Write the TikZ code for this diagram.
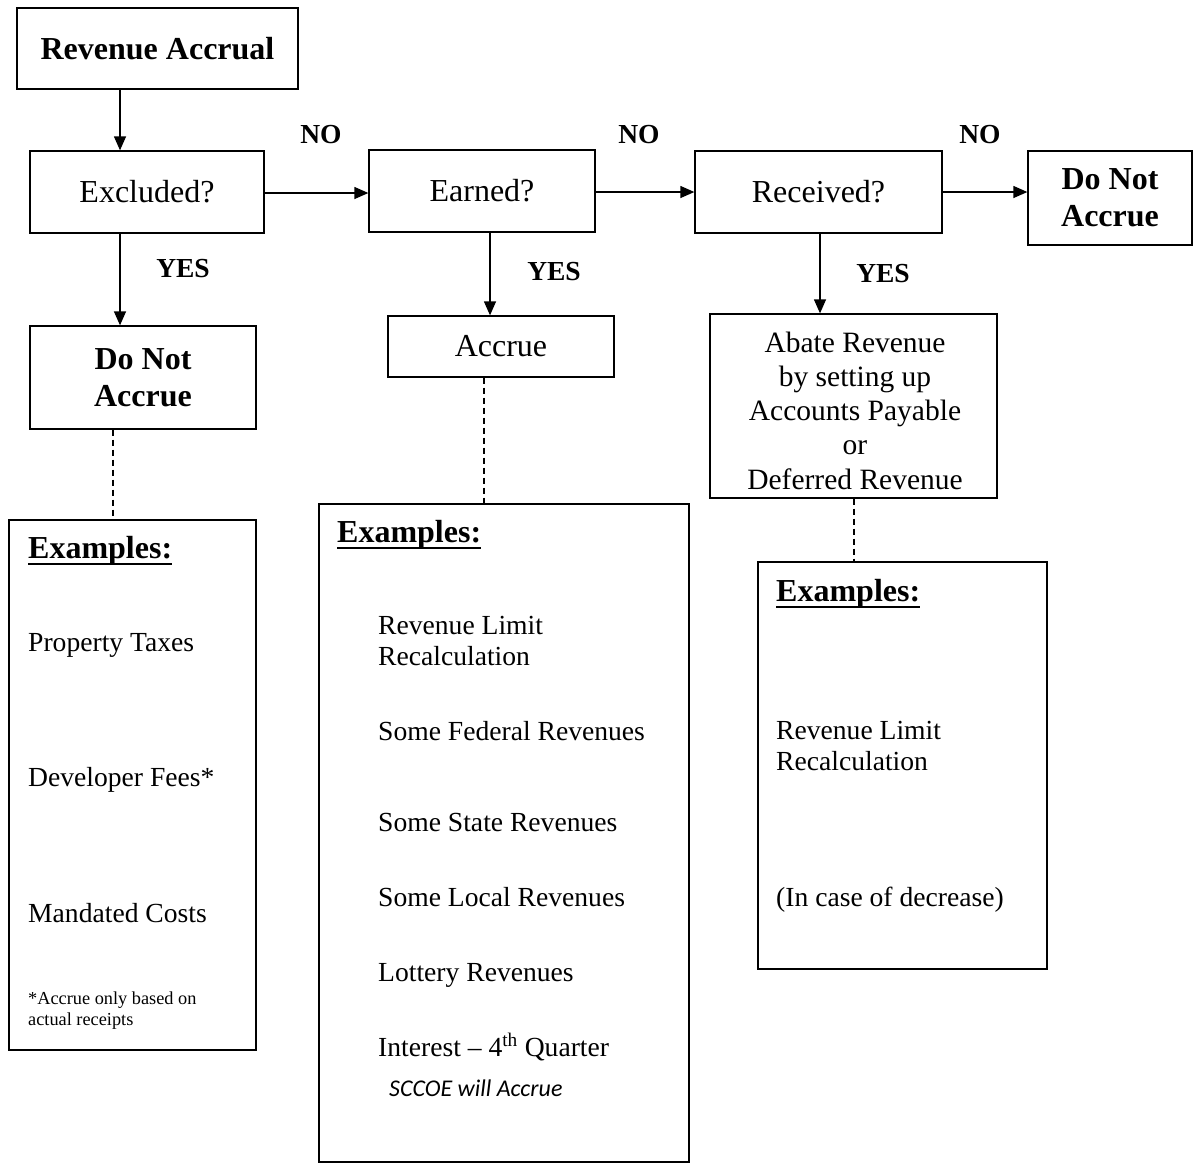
\documentclass[tikz,border=0pt]{standalone}
\usepackage{fontspec}
\setmainfont{Liberation Serif}
\newfontfamily\carlito{Carlito}
\usetikzlibrary{arrows.meta}
\begin{document}
\begin{tikzpicture}[x=1pt,y=-1pt,
  box/.style={draw, line width=1.3pt, inner sep=0pt, align=center},
  boxfont/.style={font=\fontsize{32}{36}\selectfont},
  boldfont/.style={font=\fontsize{32}{37}\selectfont\bfseries},
  arr/.style={line width=1.3pt, -{Triangle[length=14pt,width=12pt]}},
  dashline/.style={line width=1.2pt, dash pattern=on 6pt off 4pt},
  lab/.style={inner sep=0pt, font=\fontsize{27.5}{30}\selectfont\bfseries},
  item/.style={anchor=base west, inner sep=0pt, font=\fontsize{27.6}{31}\selectfont},
  exhead/.style={anchor=base west, inner sep=0pt, font=\fontsize{32}{34}\selectfont\bfseries},
  foot/.style={anchor=base west, inner sep=0pt, font=\fontsize{18.3}{21}\selectfont},
  uline/.style={line width=2.5pt}
]
\useasboundingbox (0,0) rectangle (1198,1163);

% main boxes
\node[box, boldfont, minimum width=281pt, minimum height=81pt] (ra) at (157.5,48.5) {Revenue Accrual};
\node[box, boxfont, minimum width=234pt, minimum height=82pt] (exc) at (147,192) {Excluded?};
\node[box, boxfont, minimum width=226pt, minimum height=82pt] (earn) at (482,191) {Earned?};
\node[box, boxfont, minimum width=247pt, minimum height=82pt] (rec) at (818.5,192) {Received?};
\node[box, boldfont, minimum width=164pt, minimum height=94pt] (dnr) at (1110,198) {Do Not\\Accrue};
\node[box, boldfont, minimum width=226pt, minimum height=103pt] (dnl) at (143,377.5) {Do Not\\Accrue};
\node[box, boxfont, minimum width=226pt, minimum height=61pt] (acc) at (501,346.5) {Accrue};
\node[box, minimum width=287pt, minimum height=184pt] (abate) at (853.5,406) {};
\node[inner sep=0pt, align=center, font=\fontsize{29.5}{34.3}\selectfont] (abatetext) at (855,410.5)
  {Abate Revenue\\by setting up\\Accounts Payable\\or\\Deferred Revenue};

% example boxes
\node[box, minimum width=247pt, minimum height=530pt] (ex1) at (132.5,785) {};
\node[box, minimum width=370pt, minimum height=658pt] (ex2) at (504,833) {};
\node[box, minimum width=289pt, minimum height=407pt] (ex3) at (902.5,765.5) {};

% arrows
\draw[arr] (ra.south -| 120,0) -- (exc.north -| 120,0);
\draw[arr] (exc.east |- 0,193) -- (earn.west |- 0,193);
\draw[arr] (earn.east |- 0,192) -- (rec.west |- 0,192);
\draw[arr] (rec.east |- 0,192) -- (dnr.west |- 0,192);
\draw[arr] (exc.south -| 120,0) -- (dnl.north -| 120,0);
\draw[arr] (earn.south -| 490,0) -- (acc.north -| 490,0);
\draw[arr] (rec.south -| 820,0) -- (abate.north -| 820,0);

% dashed links
\draw[dashline] (dnl.south -| 113,0) -- (ex1.north -| 113,0);
\draw[dashline] (acc.south -| 484,0) -- (ex2.north -| 484,0);
\draw[dashline] (abate.south -| 854,0) -- (ex3.north -| 854,0);

% labels
\node[lab] (no1) at (321,135) {NO};
\node[lab] (no2) at (639,135) {NO};
\node[lab] (no3) at (980,135) {NO};
\node[lab] (yes1) at (183,269) {YES};
\node[lab] (yes2) at (554,272) {YES};
\node[lab] (yes3) at (883,274) {YES};

% examples 1
\node[exhead] (h1) at (28,558) {Examples:};
\draw[uline] ([yshift=-6pt]h1.base west) -- ([yshift=-6pt]h1.base east);
\node[item] (p1) at (28,651) {Property Taxes};
\node[item] (p2) at (28,786) {Developer Fees*};
\node[item] (p3) at (28,922) {Mandated Costs};
\node[foot] (f1) at (28,1004) {*Accrue only based on};
\node[foot] (f2) at (28,1025) {actual receipts};

% examples 2
\node[exhead] (h2) at (337,542) {Examples:};
\draw[uline] ([yshift=-6pt]h2.base west) -- ([yshift=-6pt]h2.base east);
\node[item] (q1) at (378,634) {Revenue Limit};
\node[item] (q2) at (378,665) {Recalculation};
\node[item] (q3) at (378,740) {Some Federal Revenues};
\node[item] (q4) at (378,831) {Some State Revenues};
\node[item] (q5) at (378,906) {Some Local Revenues};
\node[item] (q6) at (378,981) {Lottery Revenues};
\node[item] (q7) at (378,1056) {Interest -- 4\textsuperscript{th} Quarter};
\node[anchor=base west, inner sep=0pt, font=\fontsize{24}{27}\selectfont\carlito\itshape] (q8) at (389,1096) {SCCOE will Accrue};

% examples 3
\node[exhead] (h3) at (776,601) {Examples:};
\draw[uline] ([yshift=-6pt]h3.base west) -- ([yshift=-6pt]h3.base east);
\node[item] (r1) at (776,739) {Revenue Limit};
\node[item] (r2) at (776,770) {Recalculation};
\node[item] (r3) at (776,906) {(In case of decrease)};
\end{tikzpicture}
\end{document}
